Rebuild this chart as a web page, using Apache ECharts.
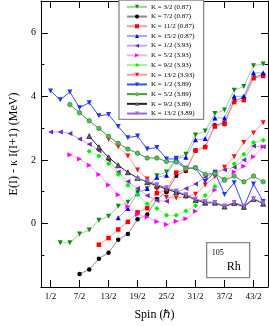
<!DOCTYPE html>
<html>
<head>
<meta charset="utf-8">
<script src="https://cdn.jsdelivr.net/npm/echarts@6/dist/echarts.min.js"></script>
<style>
html,body{margin:0;padding:0;background:#fff;}
#c{width:269px;height:326px;}
</style>
</head>
<body>
<div id="c"></div>
<script>
// Spin tick labels
const spinTicks = [0.5, 3.5, 6.5, 9.5, 12.5, 15.5, 18.5, 21.5];
const spinTickLabels = ['1/2','7/2','13/2','19/2','25/2','31/2','37/2','43/2'];

// Series names
const names = ['K = 3/2 (0.87)','K = 7/2 (0.87)','K = 11/2 (0.87)','K = 15/2 (0.87)',
  'K = 1/2 (3.93)','K = 5/2 (3.93)','K = 9/2 (3.93)','K = 13/2 (3.93)',
  'K = 1/2 (3.89)','K = 5/2 (3.89)','K = 9/2 (3.89)','K = 13/2 (3.89)'];

// first spin of each band
const startSpin = [1.5, 3.5, 5.5, 7.5, 0.5, 2.5, 4.5, 6.5, 0.5, 2.5, 4.5, 9.5];

// E(I) - kI(I+1) values (MeV), one per spin step
const k32_087 = [-0.61,-0.61,-0.33,-0.21,0.10,0.23,0.54,0.67,0.98,1.09,1.50,1.62,2.05,2.18,2.78,2.91,3.46,3.57,4.19,4.31,4.96,5.02];
const k72_087 = [-1.59,-1.45,-1.11,-0.92,-0.51,-0.33,0.13,0.28,0.77,0.98,1.50,1.65,2.29,2.41,3.09,3.17,3.87,3.96,4.60,4.68];
const k112_087 = [-0.67,-0.46,-0.19,0.05,0.35,0.48,0.95,1.05,1.60,1.70,2.30,2.40,3.05,3.13,3.82,3.88,4.57,4.64];
const k152_087 = [0.18,0.47,0.95,1.10,1.45,1.52,2.05,2.08,2.63,2.67,3.32,3.32,4.00,4.00,4.74,4.74];
const k12_393 = [2.88,2.88,2.83,2.66,2.49,2.29,2.00,1.62,1.32,1.10,0.88,0.72,0.70,0.97,1.10,1.24,1.45,1.62,1.69,1.77,2.00,2.44,2.41];
const k52_393 = [2.16,2.03,1.83,1.54,1.21,0.90,0.53,0.28,0.20,0.06,-0.03,0.07,0.15,0.38,0.70,1.05,1.38,1.62,1.80,2.10,2.41];
const k92_393 = [2.27,2.12,1.88,1.54,1.20,0.90,0.62,0.47,0.26,0.26,0.39,0.56,0.88,1.16,1.40,1.88,2.18,2.55,2.62];
const k132_393 = [2.65,2.41,2.12,1.68,1.40,1.07,0.82,0.80,0.85,0.92,1.21,1.47,1.77,2.10,2.55,2.85,3.17];
const k12_389 = [4.17,3.89,4.14,3.64,3.80,3.39,3.43,3.05,2.70,2.75,2.34,2.39,2.03,2.03,1.74,1.74,1.32,1.61,0.91,1.28,0.51,1.24,0.69];
const k52_389 = [3.74,3.48,3.23,2.99,2.74,2.52,2.34,2.21,2.06,2.06,1.95,1.93,1.73,1.75,1.55,1.57,1.36,1.49,1.31,1.49,1.31];
const k92_389 = [2.75,2.40,2.08,1.83,1.61,1.43,1.30,1.19,1.08,0.98,0.88,0.74,0.65,0.65,0.53,0.64,0.52,0.77,0.62];
const k132_389 = [1.40,1.33,1.22,1.12,1.02,0.90,0.77,0.68,0.66,0.55,0.66,0.55,0.78,0.64];

const allValues = [k32_087,k72_087,k112_087,k152_087,k12_393,k52_393,k92_393,k132_393,k12_389,k52_389,k92_389,k132_389];

// styles
const styles = [
  {sym:'triangle', rot:180, mk:'#118811', ln:'#92d492'},
  {sym:'circle', rot:0, mk:'#000000', ln:'#8c8c8c'},
  {sym:'rect', rot:0, mk:'#ff0000', ln:'#ff9c9c'},
  {sym:'triangle', rot:0, mk:'#0000ff', ln:'#a0a8ff'},
  {sym:'triangle', rot:90, mk:'#7428b8', ln:'#cba6e8'},
  {sym:'triangle', rot:-90, mk:'#ff00ff', ln:'#ffaaff'},
  {sym:'diamond', rot:0, mk:'#00ee00', ln:'#9cf79c'},
  {sym:'triangle', rot:180, mk:'#ff1010', ln:'#ff9c9c'},
  {sym:'triangle', rot:180, mk:'#2233ff', ln:'#3b4cff'},
  {sym:'circle', rot:0, mk:'#5cb85c', ln:'#3d9e3d', bd:'#2a782a'},
  {sym:'triangle', rot:0, mk:'#666666', ln:'#222222', bd:'#000000'},
  {sym:'triangle', rot:180, mk:'#9a66d9', ln:'#9a66d9'}
];

const series = allValues.map((vals, i) => {
  const st = styles[i];
  return {
    name: names[i],
    type: 'line',
    data: vals.map((v, j) => [startSpin[i] + j, v]),
    symbol: st.sym,
    symbolRotate: st.rot,
    symbolSize: st.sym === 'rect' ? 4.5 : (st.sym === 'circle' ? 4.5 : 5),
    lineStyle: {color: st.ln, width: 1},
    itemStyle: {color: st.mk, borderColor: st.bd || st.mk, borderWidth: st.bd ? 0.6 : 0},
    emphasis: {disabled: true},
    animation: false,
    z: 2 + i
  };
});

const serif = 'Liberation Serif, Times New Roman, serif';

const chart = echarts.init(document.getElementById('c'), null, {renderer: 'canvas'});
chart.setOption({
  backgroundColor: '#fff',
  animation: false,
  grid: {left: 24, right: 1, top: 1, bottom: 34, containLabel: false},
  legend: {
    orient: 'vertical',
    left: 119, top: 0,
    padding: [2.5, 9, 1.5, 7],
    itemWidth: 20, itemHeight: 5, itemGap: 1,
    borderColor: '#888', borderWidth: 1.3,
    backgroundColor: '#fff',
    itemStyle: {borderWidth: 0},
    textStyle: {fontFamily: serif, fontSize: 7, color: '#000', lineHeight: 8.7, padding: [0,0,0,-1]},
    data: names,
    selectedMode: false
  },
  xAxis: [{
    type: 'value', min: -0.5, max: 23,
    name: 'Spin (ℏ)', nameLocation: 'middle', nameGap: 22,
    nameTextStyle: {fontFamily: serif, fontSize: 12, color: '#000'},
    axisLine: {onZero: false, lineStyle: {color: '#000', width: 1}},
    axisTick: {inside: true, length: 7, customValues: spinTicks, lineStyle: {color: '#000'}},
    axisLabel: {customValues: spinTicks, fontFamily: serif, fontSize: 9, color: '#000', margin: 5,
      formatter: v => { const k = spinTicks.findIndex(t => Math.abs(t - v) < 1e-6); return k >= 0 ? spinTickLabels[k] : ''; }},
    splitLine: {show: false}
  }, {
    type: 'value', min: -0.5, max: 23, position: 'top',
    axisLine: {onZero: false, lineStyle: {color: '#000', width: 1}},
    axisTick: {inside: true, length: 7, customValues: spinTicks, lineStyle: {color: '#000'}},
    axisLabel: {show: false}, splitLine: {show: false}
  }],
  yAxis: [{
    type: 'value', min: -2, max: 7, interval: 2,
    name: 'E(I) - κ I(I+1) (MeV)', nameLocation: 'middle', nameGap: 16,
    nameTextStyle: {fontFamily: serif, fontSize: 12, color: '#000'},
    axisLine: {show: true, onZero: false, lineStyle: {color: '#000', width: 1}},
    axisTick: {inside: true, length: 7, lineStyle: {color: '#000'}},
    minorTick: {show: true, splitNumber: 2, length: 3.5, lineStyle: {color: '#000'}},
    axisLabel: {fontFamily: serif, fontSize: 10, color: '#000', margin: 5, showMaxLabel: false,
      formatter: v => (v < -1 || v > 6.5) ? '' : String(v)},
    splitLine: {show: false}
  }, {
    type: 'value', min: -2, max: 7, interval: 2, position: 'right',
    axisLine: {show: true, onZero: false, lineStyle: {color: '#000', width: 1}},
    axisTick: {inside: true, length: 7, lineStyle: {color: '#000'}},
    minorTick: {show: true, splitNumber: 2, length: 3.5, lineStyle: {color: '#000'}},
    axisLabel: {show: false}, splitLine: {show: false}
  }],
  graphic: [{
    type: 'group', left: 206, top: 242, silent: true,
    children: [
      {type: 'rect', shape: {x: 0, y: 0, width: 43, height: 35}, style: {fill: '#fff', stroke: '#888', lineWidth: 1.3}},
      {type: 'text', x: 5, y: 6, style: {text: '105', font: '8px ' + serif, fill: '#000'}},
      {type: 'text', x: 20, y: 18, style: {text: 'Rh', font: '12px ' + serif, fill: '#000'}}
    ]
  }],
  series: series
});
</script>
</body>
</html>
